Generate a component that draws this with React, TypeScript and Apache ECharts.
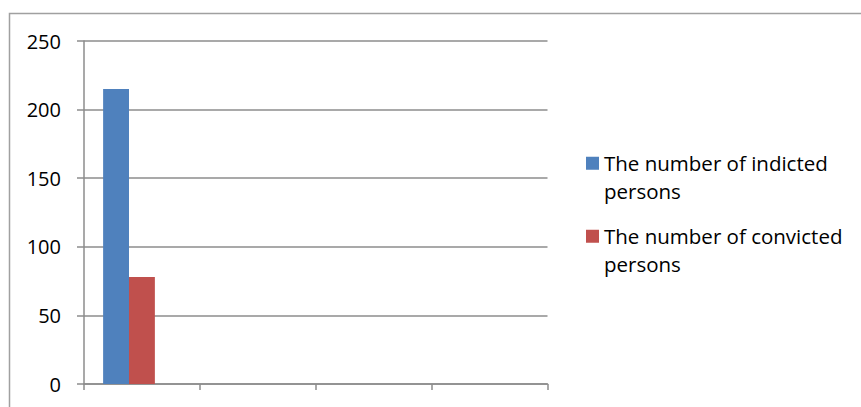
import React, { useEffect, useRef } from "react";
import * as echarts from "echarts";

const categories = ["Category 1", "Category 2", "Category 3", "Category 4"];
const indicted = [215, null, null, null];
const convicted = [78, null, null, null];
const emptySeries = [null, null, null, null];
const seriesNames = ["The number of indicted persons", "The number of convicted persons", "Series 3"];
const legendLines: Record<string, string> = {
  "The number of indicted persons": "\nThe number of indicted\npersons",
  "The number of convicted persons": "\nThe number of convicted\npersons",
};

export default function App() {
  const ref = useRef<HTMLDivElement>(null);
  useEffect(() => {
    if (!ref.current) return;
    const chart = echarts.init(ref.current, null, { renderer: "svg" });
    const font = "Open Sans";
    chart.setOption({
      animation: false,
      backgroundColor: "#ffffff",
      textStyle: { fontFamily: font },
      graphic: [
        {
          type: "rect",
          shape: { x: 9.5, y: 13.5, width: 900, height: 500 },
          style: { fill: "none", stroke: "#a0a0a0", lineWidth: 1.5 },
          silent: true,
        },
      ],
      grid: { left: 84, right: 313.5, top: 41, bottom: 23 },
      legend: {
        orient: "vertical",
        left: 586,
        top: 122,
        padding: 0,
        itemWidth: 13,
        itemHeight: 13,
        itemGap: -9.5,
        icon: "rect",
        data: seriesNames.slice(0, 2),
        formatter: (n: string) => legendLines[n] || n,
        textStyle: {
          fontFamily: font,
          fontSize: 20.5,
          color: "#000",
          lineHeight: 27.5,
        },
        itemStyle: { borderWidth: 0 },
      },
      xAxis: {
        type: "category",
        data: categories,
        axisLine: { show: true, lineStyle: { color: "#8c8c8c", width: 1.5 } },
        axisTick: { show: true, length: 6, lineStyle: { color: "#8c8c8c", width: 1.5 } },
        axisLabel: { show: false },
      },
      yAxis: {
        type: "value",
        min: 0,
        max: 250,
        interval: 50,
        axisLine: { show: true, lineStyle: { color: "#8c8c8c", width: 1.5 } },
        axisTick: { show: true, length: 7, lineStyle: { color: "#8c8c8c", width: 1.5 } },
        axisLabel: { fontFamily: font, fontSize: 20, color: "#000", margin: 23 },
        splitLine: { show: true, lineStyle: { color: "#8c8c8c", width: 1.5 } },
      },
      series: [
        {
          name: seriesNames[0],
          type: "bar",
          data: indicted,
          barGap: "0%",
          barCategoryGap: "33%",
          itemStyle: { color: "#4F81BD" },
        },
        {
          name: seriesNames[1],
          type: "bar",
          data: convicted,
          barGap: "0%",
          barCategoryGap: "33%",
          itemStyle: { color: "#C0504D" },
        },
        {
          name: seriesNames[2],
          type: "bar",
          data: emptySeries,
          barGap: "0%",
          barCategoryGap: "33%",
          itemStyle: { color: "#9BBB59" },
        },
      ],
    });
    return () => chart.dispose();
  }, []);
  return (
    <div
      ref={ref}
      style={{ position: "fixed", left: 0, top: 0, width: 861, height: 407 }}
    />
  );
}
